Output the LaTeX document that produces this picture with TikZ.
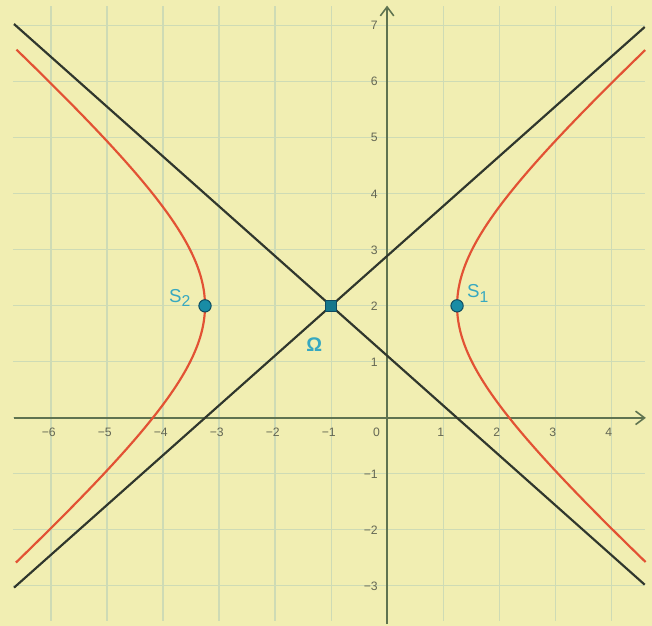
\documentclass[tikz,border=0pt]{standalone}
\usepackage{fontspec}
\setmainfont{Liberation Sans}
\usetikzlibrary{arrows.meta}
\definecolor{paper}{RGB}{241,238,178}
\definecolor{gridc}{RGB}{206,219,181}
\definecolor{axisc}{RGB}{95,115,80}
\definecolor{asym}{RGB}{48,55,45}
\definecolor{curvec}{RGB}{226,82,52}
\definecolor{ptfill}{RGB}{25,140,165}
\definecolor{ptline}{RGB}{15,75,95}
\definecolor{labc}{RGB}{55,168,192}
\definecolor{tickc}{RGB}{100,103,84}
\newcommand{\subsc}[1]{\raisebox{-0.45ex}{\fontsize{8}{9}\selectfont #1}}
\tikzset{
  gridline/.style={gridc, line width=0.55pt},
  axisline/.style={axisc, line width=0.8pt, -{Straight Barb[length=1.6mm,width=2.4mm]}},
  asymline/.style={asym, line width=1.1pt},
  hyper/.style={curvec, line width=1.1pt},
  vertexpt/.style={circle, fill=ptfill, draw=ptline, line width=0.5pt, inner sep=0pt, minimum size=2.2mm},
  centerpt/.style={rectangle, fill=ptfill!85!black, draw=ptline, line width=0.5pt, inner sep=0pt, minimum size=2mm},
  ptlabel/.style={text=labc, font=\fontsize{9.5}{11}\selectfont, inner sep=0pt},
  xtick/.style={text=tickc, font=\fontsize{6.2}{7}\selectfont, inner sep=0pt},
  ytick/.style={text=tickc, font=\fontsize{6.2}{7}\selectfont, inner sep=0pt, anchor=east}
}
\begin{document}
\begin{tikzpicture}
\useasboundingbox[fill=paper] (-6.91,-3.71) rectangle (4.73,7.46);
% grid
\foreach \x in {-6,...,4} \draw[gridline] (\x,-3.62) -- (\x,7.35);
\foreach \y in {-3,...,7} \draw[gridline] (-6.68,\y) -- (4.6,\y);
% axes
\coordinate (xs) at (-6.66,0);
\coordinate (xe) at (4.62,0);
\coordinate (ys) at (0,-3.68);
\coordinate (ye) at (0,7.36);
\draw[axisline] (xs) -- (xe);
\draw[axisline] (ys) -- (ye);
% tick labels
\foreach \x/\t in {-6/−6,-5/−5,-4/−4,-3/−3,-2/−2,-1/−1,1/1,2/2,3/3,4/4}
  \node[xtick] (tx\x) at (\x-0.04,-0.25) {\t};
\node[xtick] (t0) at (-0.19,-0.25) {0};
\foreach \y/\t in {-3/−3,-2/−2,-1/−1,1/1,2/2,3/3,4/4,5/5,6/6,7/7}
  \node[ytick] (ty\y) at (-0.16,\y) {\t};
% asymptotes
\coordinate (a1) at (-6.66,7.031);
\coordinate (a2) at (4.6,-2.978);
\coordinate (b1) at (-6.66,-3.031);
\coordinate (b2) at (4.6,6.978);
\draw[asymline] (a1) -- (a2);
\draw[asymline] (b1) -- (b2);
% hyperbola
\draw[hyper] plot[domain=-1.565:1.565, samples=120, variable=\t] ({-1+2.25*cosh(\t)},{2+2*sinh(\t)});
\draw[hyper] plot[domain=-1.567:1.567, samples=120, variable=\t] ({-1-2.25*cosh(\t)},{2+2*sinh(\t)});
% points
\node[centerpt] (O) at (-1,2) {};
\node[vertexpt] (S1) at (1.25,2) {};
\node[vertexpt] (S2) at (-3.25,2) {};
\node[ptlabel] (lS1) at (1.62,2.22) {S\subsc{1}};
\node[ptlabel] (lS2) at (-3.7,2.14) {S\subsc{2}};
\node[ptlabel, font=\fontsize{10}{12}\bfseries] (lO) at (-1.3,1.3) {Ω};
\end{tikzpicture}
\end{document}
